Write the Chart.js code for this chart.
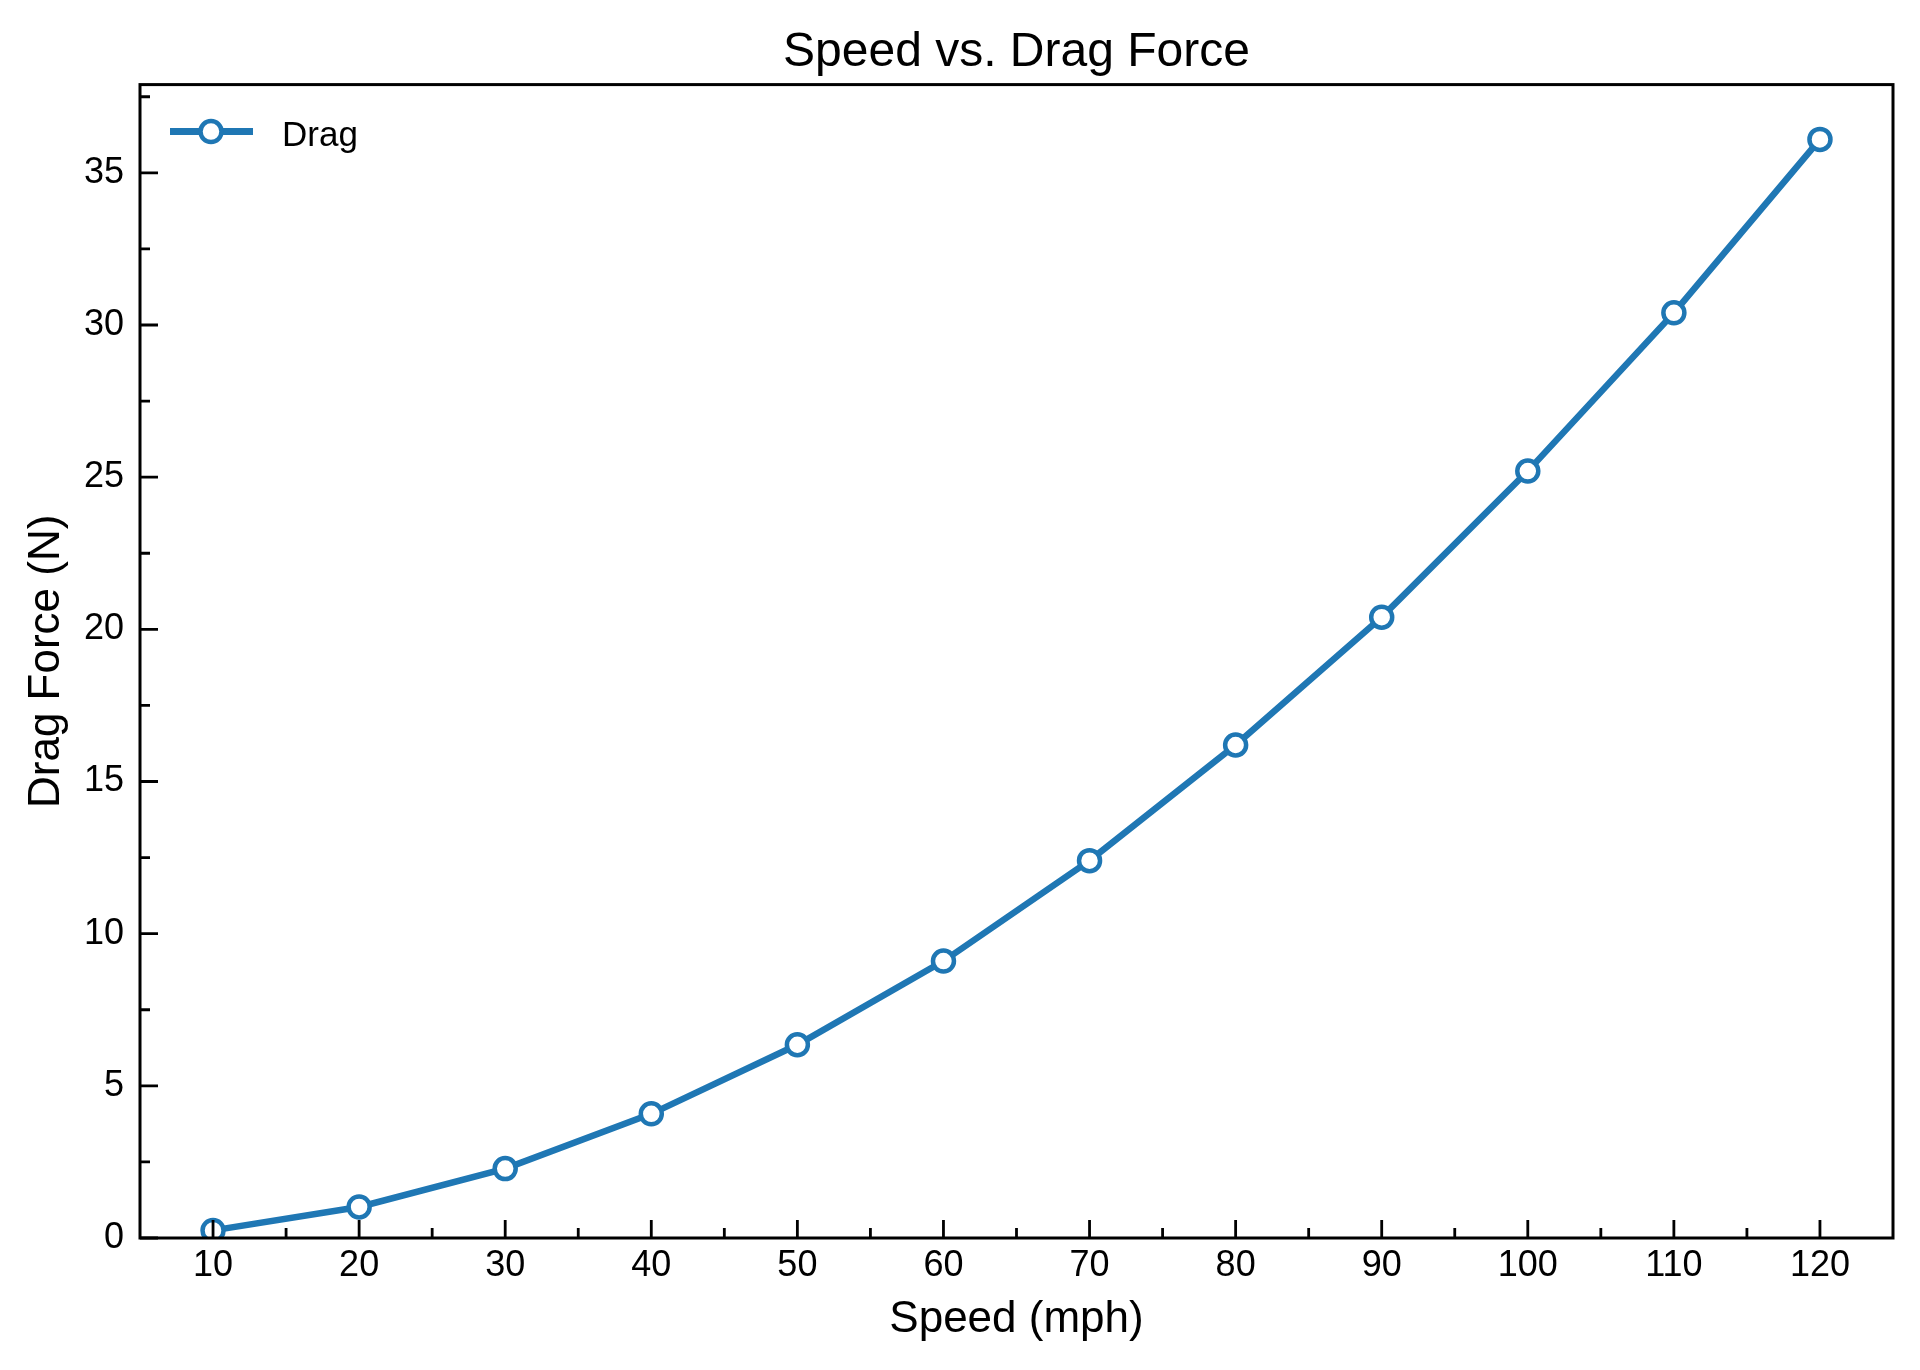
<!DOCTYPE html>
<html>
<head>
<meta charset="utf-8">
<title>Speed vs. Drag Force</title>
<script src="https://cdn.jsdelivr.net/npm/chart.js@4.4.1/dist/chart.umd.min.js"></script>
<style>
  html, body { margin: 0; padding: 0; background: #fff; }
  #wrap { width: 1920px; height: 1370px; position: relative; }
</style>
</head>
<body>
<div id="wrap"><canvas id="dragChart"></canvas></div>
<script>
// data
const speeds = [10, 20, 30, 40, 50, 60, 70, 80, 90, 100, 110, 120];
const dragForce = [0.25, 1.02, 2.28, 4.08, 6.35, 9.1, 12.4, 16.2, 20.4, 25.2, 30.4, 36.1];
const xTicks = [10, 20, 30, 40, 50, 60, 70, 80, 90, 100, 110, 120];
const xMinorTicks = [15, 25, 35, 45, 55, 65, 75, 85, 95, 105, 115];
const yTicks = [0, 5, 10, 15, 20, 25, 30, 35];
const yMinorTicks = [2.5, 7.5, 12.5, 17.5, 22.5, 27.5, 32.5, 37.5];

const blue = "#1f77b4";
const fontFamily = "'Liberation Sans', Arial, Helvetica, sans-serif";

// spines + inward ticks, like matplotlib
const frameTicks = {
  id: "frameTicks",
  afterDraw(chart) {
    const ctx = chart.ctx;
    const area = chart.chartArea;
    const xs = chart.scales.x;
    const ys = chart.scales.y;
    ctx.save();
    ctx.strokeStyle = "#000";
    ctx.lineCap = "butt";

    ctx.lineWidth = 2.8;
    ctx.beginPath();
    xTicks.forEach(function (v) {
      const px = xs.getPixelForValue(v);
      ctx.moveTo(px, area.bottom);
      ctx.lineTo(px, area.bottom - 18);
    });
    xMinorTicks.forEach(function (v) {
      const px = xs.getPixelForValue(v);
      ctx.moveTo(px, area.bottom);
      ctx.lineTo(px, area.bottom - 10);
    });
    yTicks.forEach(function (v) {
      const py = ys.getPixelForValue(v);
      ctx.moveTo(area.left, py);
      ctx.lineTo(area.left + 18, py);
    });
    yMinorTicks.forEach(function (v) {
      const py = ys.getPixelForValue(v);
      ctx.moveTo(area.left, py);
      ctx.lineTo(area.left + 10, py);
    });
    ctx.stroke();

    ctx.lineWidth = 3;
    ctx.strokeRect(area.left, area.top, area.right - area.left, area.bottom - area.top);
    ctx.restore();
  },
};

// legend inside the axes, upper left
const innerLegend = {
  id: "innerLegend",
  afterDraw(chart) {
    const ctx = chart.ctx;
    const area = chart.chartArea;
    const y = area.top + 47;
    ctx.save();
    ctx.strokeStyle = blue;
    ctx.lineWidth = 7;
    ctx.beginPath();
    ctx.moveTo(area.left + 30, y);
    ctx.lineTo(area.left + 113, y);
    ctx.stroke();
    ctx.fillStyle = "#fff";
    ctx.lineWidth = 4.5;
    ctx.beginPath();
    ctx.arc(area.left + 71, y, 10.5, 0, Math.PI * 2);
    ctx.fill();
    ctx.stroke();
    ctx.fillStyle = "#000";
    ctx.font = "35px " + fontFamily;
    ctx.textBaseline = "alphabetic";
    ctx.textAlign = "left";
    ctx.fillText("Drag", area.left + 142, area.top + 61);
    ctx.restore();
  },
};

const ctxDrag = document.getElementById("dragChart").getContext("2d");
const dragChart = new Chart(ctxDrag, {
  type: "line",
  data: {
    datasets: [
      {
        label: "Drag",
        data: speeds.map(function (s, i) { return { x: s, y: dragForce[i] }; }),
        borderColor: blue,
        borderWidth: 6.5,
        tension: 0,
        pointRadius: 10.5,
        pointHoverRadius: 10.5,
        pointBorderWidth: 4.5,
        pointBackgroundColor: "#fff",
        pointBorderColor: blue,
      },
    ],
  },
  options: {
    responsive: true,
    maintainAspectRatio: false,
    animation: false,
    layout: { padding: { left: 0, right: 27, top: 0, bottom: 0 } },
    plugins: {
      legend: { display: false },
      tooltip: { enabled: false },
      title: {
        display: true,
        fullSize: false,
        text: "Speed vs. Drag Force",
        color: "#000",
        font: { family: fontFamily, size: 48, weight: "normal" },
        padding: { top: 24, bottom: 3 },
      },
    },
    scales: {
      x: {
        type: "linear",
        min: 5,
        max: 125,
        grid: { display: false, drawTicks: false, tickLength: 0 },
        border: { display: false },
        afterBuildTicks: function (scale) {
          scale.ticks = xTicks.map(function (v) { return { value: v }; });
        },
        afterFit: function (scale) {
          scale.height = 132;
        },
        ticks: {
          color: "#000",
          padding: 6,
          maxRotation: 0,
          autoSkip: false,
          font: { family: fontFamily, size: 36 },
        },
        title: {
          display: true,
          text: "Speed (mph)",
          color: "#000",
          font: { family: fontFamily, size: 44 },
          padding: { top: 0, bottom: 24 },
        },
      },
      y: {
        type: "linear",
        min: 0,
        max: 37.9,
        grid: { display: false, drawTicks: false, tickLength: 0 },
        border: { display: false },
        afterBuildTicks: function (scale) {
          scale.ticks = yTicks.map(function (v) { return { value: v }; });
        },
        afterFit: function (scale) {
          scale.width = 140;
        },
        ticks: {
          color: "#000",
          padding: 16,
          autoSkip: false,
          font: { family: fontFamily, size: 36 },
        },
        title: {
          display: true,
          text: "Drag Force (N)",
          color: "#000",
          font: { family: fontFamily, size: 44 },
          padding: { top: 20, bottom: 0 },
        },
      },
    },
  },
  plugins: [frameTicks, innerLegend],
});
</script>
</body>
</html>
